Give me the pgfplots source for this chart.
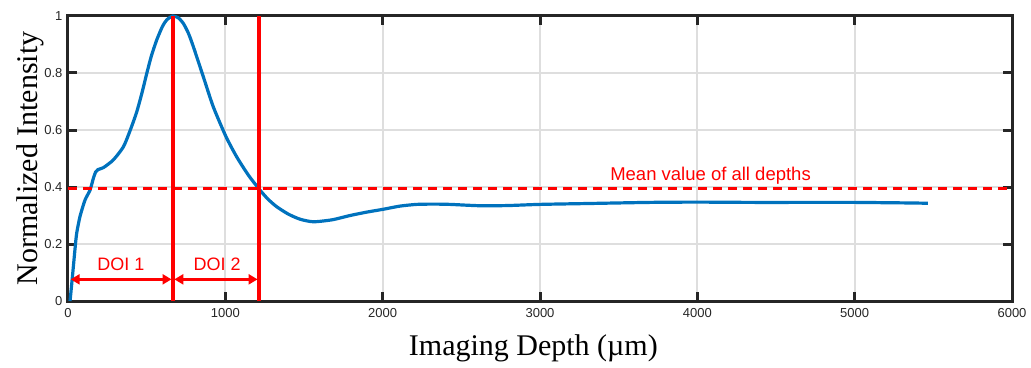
\documentclass[border=0pt]{standalone}
\usepackage{pgfplots}
\pgfplotsset{compat=1.18}
\usepackage{fontspec}
\setmainfont{Liberation Serif}
\newfontfamily\sansf{Liberation Sans}
\usetikzlibrary{arrows.meta,calc}
\definecolor{mblue}{RGB}{0,114,189}
\definecolor{gridgray}{RGB}{222,222,222}
\begin{document}
\begin{tikzpicture}
\begin{axis}[
  name=ax,
  scale only axis,
  width=944pt, height=285pt,
  xmin=0, xmax=6000, ymin=0, ymax=1,
  xtick={0,1000,...,6000},
  ytick={0,0.2,0.4,0.6,0.8,1},
  /pgf/number format/1000 sep={},
  /pgf/number format/assume math mode=true,
  tick label style={font=\fontsize{13}{14}\selectfont\sansf, text=black!85},
  xticklabel style={yshift=-4pt},
  yticklabel style={xshift=-2pt},
  grid=major,
  major grid style={gridgray, line width=2pt},
  axis line style={black!85, line width=3pt},
  major tick length=9pt,
  tick style={black!85, line width=3pt},
  tick align=inside,
  xlabel={Imaging Depth (\textmu m)},
  ylabel={Normalized Intensity},
  label style={font=\fontsize{30}{32}\selectfont},
  xlabel style={at={(axis description cs:0.493,-0.19)}, anchor=base},
  ylabel style={at={(axis description cs:-0.040,0.5)}, anchor=center},
  clip=false,
]
\addplot[mblue, line width=3.2pt, smooth, tension=0.4] coordinates {
(13,0) (22,0.05) (34,0.12) (45,0.185) (55,0.237) (76,0.296) (108,0.354)
(140,0.389) (161,0.43) (175,0.452) (190,0.461) (225,0.468) (288,0.495)
(352,0.541) (394,0.597) (436,0.662) (470,0.730) (500,0.797) (530,0.860)
(564,0.916) (600,0.963) (627,0.986) (665,1.0) (700,0.994) (733,0.974)
(765,0.94) (797,0.892) (860,0.787) (923,0.682) (1004,0.577) (1072,0.506)
(1146,0.442) (1216,0.392) (1270,0.358) (1326,0.331) (1400,0.305) (1475,0.287)
(1560,0.278) (1680,0.285)
(1793,0.300) (1900,0.312) (2005,0.322) (2110,0.333) (2217,0.339) (2330,0.340)
(2428,0.339) (2540,0.336) (2640,0.334) (2800,0.335) (3000,0.339) (3300,0.342)
(3700,0.346) (4000,0.347) (4336,0.346) (4700,0.346) (5000,0.346) (5181,0.345)
(5350,0.344) (5465,0.343)
};
\addplot[red, line width=3pt, dash pattern=on 9pt off 6pt] coordinates {(0,0.395) (6000,0.395)};
\addplot[red, line width=3.2pt] coordinates {(667,0) (667,1)};
\addplot[red, line width=3.2pt] coordinates {(1214,0) (1214,1)};
\addplot[red, line width=2.5pt, {Triangle[length=9pt,width=10pt]}-{Triangle[length=9pt,width=10pt]}] coordinates {(17,0.076) (658,0.076)};
\addplot[red, line width=2.5pt, {Triangle[length=9pt,width=10pt]}-{Triangle[length=9pt,width=10pt]}] coordinates {(676,0.076) (1205,0.076)};
\node[red, anchor=base, font=\fontsize{18}{20}\selectfont\sansf] at (axis cs:336,0.106) {DOI 1};
\node[red, anchor=base, font=\fontsize{18}{20}\selectfont\sansf] at (axis cs:948,0.106) {DOI 2};
\node[red, anchor=base, font=\fontsize{18.5}{20}\selectfont\sansf] at (axis cs:4084,0.422) {Mean value of all depths};
\end{axis}
\pgfresetboundingbox
\path ($(ax.south west)+(-68pt,-66pt)$) rectangle ($(ax.north east)+(19pt,16pt)$);
\end{tikzpicture}
\end{document}
